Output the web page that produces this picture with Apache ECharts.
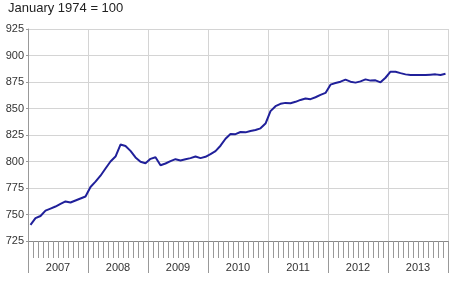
<!DOCTYPE html>
<html><head><meta charset="utf-8">
<script src="https://cdn.jsdelivr.net/npm/echarts@6/dist/echarts.min.js"></script>
<style>html,body{margin:0;padding:0;background:#fff}#c{width:450px;height:291px}</style>
</head><body><div id="c"></div>
<script>
const titleText = 'January 1974 = 100';
const years = ['2007', '2008', '2009', '2010', '2011', '2012', '2013'];
const monthNames = ['Jan','Feb','Mar','Apr','May','Jun','Jul','Aug','Sep','Oct','Nov','Dec'];
const yTicks = [725, 750, 775, 800, 825, 850, 875, 900, 925];

const values2007 = [740.3, 746.5, 748.6, 753.7, 755.6, 757.5, 760.0, 762.3, 761.3, 763.2, 765.1, 767.0];
const values2008 = [776.0, 781.0, 786.6, 793.4, 800.0, 804.7, 816.0, 814.7, 810.0, 803.8, 799.7, 798.4];
const values2009 = [802.5, 804.0, 796.5, 798.1, 800.3, 802.2, 801.0, 802.2, 803.2, 804.7, 803.2, 804.4];
const values2010 = [807.0, 809.8, 814.9, 821.5, 826.0, 825.8, 827.8, 827.5, 828.8, 829.7, 831.3, 835.8];
const values2011 = [847.5, 852.2, 854.4, 855.3, 855.0, 856.3, 858.1, 859.4, 858.8, 860.6, 862.8, 864.7];
const values2012 = [872.5, 874.0, 875.3, 877.2, 875.3, 874.4, 875.6, 877.5, 876.3, 876.6, 874.7, 879.0];
const values2013 = [884.7, 884.7, 883.4, 882.2, 881.6, 881.6, 881.6, 881.6, 881.9, 882.2, 881.6, 882.8];

const months = [];
years.forEach(y => monthNames.forEach(m => months.push(m + ' ' + y)));
const values = [].concat(values2007, values2008, values2009, values2010, values2011, values2012, values2013);

const chart = echarts.init(document.getElementById('c'), null, {renderer: 'canvas'});
const font = 'Liberation Sans, Arial, sans-serif';
chart.setOption({
  animation: false,
  backgroundColor: '#fff',
  title: {
    text: titleText, left: 8, top: 2, padding: 0,
    textStyle: {fontFamily: font, fontSize: 13, fontWeight: 'normal', color: '#222'}
  },
  grid: {left: 28, right: 2, top: 29, bottom: 50, containLabel: false},
  xAxis: [
    {
      type: 'category', data: months, position: 'bottom', boundaryGap: true,
      axisLine: {show: true, onZero: false, lineStyle: {color: '#888', width: 1}},
      axisTick: {show: true, interval: 0, length: 17, lineStyle: {color: '#999'}},
      axisLabel: {show: false},
      splitLine: {show: false}
    },
    {
      type: 'category', data: years, position: 'bottom', boundaryGap: true,
      axisLine: {show: false, onZero: false},
      axisTick: {show: true, interval: 0, length: 32, lineStyle: {color: '#999'}},
      axisLabel: {show: true, interval: 0, margin: 21, fontFamily: font, fontSize: 11, color: '#333'},
      splitLine: {show: true, interval: 0, lineStyle: {color: '#d4d4d4', width: 1}}
    }
  ],
  yAxis: {
    type: 'value', min: yTicks[0], max: yTicks[yTicks.length - 1], interval: 25,
    axisLine: {show: true, lineStyle: {color: '#999'}},
    axisTick: {show: true, length: 2, lineStyle: {color: '#999'}},
    axisLabel: {margin: 4, fontFamily: font, fontSize: 11, color: '#333'},
    splitLine: {show: true, lineStyle: {color: '#d4d4d4', width: 1}}
  },
  series: [{
    type: 'line', xAxisIndex: 0, data: values, showSymbol: false, smooth: false,
    lineStyle: {color: '#20209a', width: 2}
  }]
});
</script></body></html>
